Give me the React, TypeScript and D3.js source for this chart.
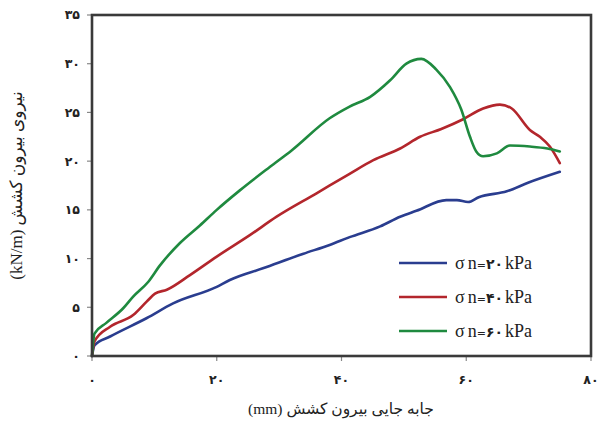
import React from "react";
import * as d3 from "d3";

const xBlue = [0, 0.4, 2.9, 8.8, 13, 20, 22.1, 27.4, 33.9, 38.1, 41.3, 46.2, 49.4, 52, 56.8, 58.5, 60.3, 62, 66.5, 70, 75];
const yBlue = [0, 1.1, 2.0, 3.9, 5.4, 7.1, 7.8, 9.0, 10.5, 11.4, 12.2, 13.3, 14.3, 14.9, 16.0, 16.0, 15.8, 16.3, 16.9, 17.8, 18.9];

const xRed = [0, 0.4, 2.9, 6.6, 8.8, 10.1, 12, 15.7, 20, 25.3, 29.6, 36, 41.3, 45.1, 49.4, 52.6, 56, 59.5, 62.7, 65.4, 67.3, 70.2, 71.8, 73.4, 75];
const yRed = [0, 1.5, 3.0, 4.2, 5.6, 6.4, 6.8, 8.3, 10.2, 12.4, 14.3, 16.7, 18.7, 20.1, 21.3, 22.5, 23.3, 24.3, 25.4, 25.8, 25.4, 23.2, 22.5, 21.5, 19.8];

const xGreen = [0, 0.4, 2.3, 5, 6.6, 9, 10.9, 14.1, 17.3, 20, 23.7, 28.5, 32, 38.1, 41.3, 44.6, 47.8, 50.4, 52.8, 55.2, 57.4, 59.2, 60.6, 61.6, 62.7, 64.9, 67, 70.2, 73, 75];
const yGreen = [0, 2.3, 3.4, 4.9, 6.1, 7.6, 9.3, 11.6, 13.4, 15.0, 17.0, 19.4, 21.1, 24.4, 25.6, 26.6, 28.3, 30.0, 30.5, 29.4, 27.6, 25.3, 22.5, 21.0, 20.5, 20.8, 21.6, 21.5, 21.3, 21.0];

const seriesNames = ["۲۰", "۴۰", "۶۰"];
const seriesColors = ["#2a3d8f", "#b3262c", "#1f8a3f"];

const xTicks = [0, 20, 40, 60, 80];
const xTickLabels = ["۰", "۲۰", "۴۰", "۶۰", "۸۰"];
const yTicks = [0, 5, 10, 15, 20, 25, 30, 35];
const yTickLabels = ["۰", "۵", "۱۰", "۱۵", "۲۰", "۲۵", "۳۰", "۳۵"];

const xTitleAr = "جابه جایی بیرون کشش";
const yTitleAr = "نیروی بیرون کشش";

export default function App() {
  const left = 92, right = 591, top = 15, bottom = 356;
  const x = d3.scaleLinear().domain([0, 80]).range([left, right]);
  const y = d3.scaleLinear().domain([0, 35]).range([bottom, top]);
  const line = d3
    .line<[number, number]>()
    .x((d) => x(d[0]))
    .y((d) => y(d[1]))
    .curve(d3.curveMonotoneX);

  const series = [
    { xs: xBlue, ys: yBlue },
    { xs: xRed, ys: yRed },
    { xs: xGreen, ys: yGreen },
  ];

  const legendY = [263, 297, 331];

  return (
    <svg
      width={599}
      height={425}
      style={{ position: "absolute", left: 0, top: 0, background: "#fff" }}
    >
      <rect x={0} y={0} width={599} height={425} fill="#fff" />
      {yTicks.map((t, i) => (
        <g key={"y" + i}>
          <line x1={left - 5} x2={left} y1={y(t)} y2={y(t)} stroke="#888" strokeWidth={1.2} />
          <text
            x={left - 12}
            y={y(t)}
            dy="0.35em"
            textAnchor="end"
            fontFamily="DejaVu Sans"
            fontWeight="bold"
            fontSize={12.5}
            fill="#222"
          >
            {yTickLabels[i]}
          </text>
        </g>
      ))}
      {xTicks.map((t, i) => (
        <g key={"x" + i}>
          <line x1={x(t)} x2={x(t)} y1={bottom} y2={bottom + 5} stroke="#888" strokeWidth={1.2} />
          <text
            x={x(t)}
            y={384}
            textAnchor="middle"
            fontFamily="DejaVu Sans"
            fontWeight="bold"
            fontSize={12.5}
            fill="#222"
          >
            {xTickLabels[i]}
          </text>
        </g>
      ))}
      {series.map((s, i) => (
        <path
          key={"s" + i}
          d={line(s.xs.map((v, j) => [v, s.ys[j]] as [number, number])) || ""}
          fill="none"
          stroke={seriesColors[i]}
          strokeWidth={2.6}
          strokeLinejoin="round"
          strokeLinecap="round"
        />
      ))}
      <rect
        x={left}
        y={top}
        width={right - left}
        height={bottom - top}
        fill="none"
        stroke="#3a3a3a"
        strokeWidth={2.6}
      />
      {seriesNames.map((n, i) => (
        <g key={"l" + i}>
          <line
            x1={399}
            x2={447}
            y1={legendY[i]}
            y2={legendY[i]}
            stroke={seriesColors[i]}
            strokeWidth={2.6}
          />
          <text x={455} y={legendY[i]} dy="0.35em" fontSize={18} fill="#222" fontFamily="Liberation Serif">
            <tspan>σ</tspan>
            <tspan dx={3}>n</tspan>
            <tspan fontSize={11} fontFamily="DejaVu Sans">=</tspan>
            <tspan fontSize={14} fontFamily="DejaVu Sans" fontWeight="bold">{n}</tspan>
            <tspan dx={2}>kPa</tspan>
          </text>
        </g>
      ))}
      <text
        x={341}
        y={414}
        textAnchor="middle"
        fontSize={15.5}
        fill="#222"
        fontFamily="Liberation Serif, DejaVu Sans"
      >
        {"(mm) " + xTitleAr}
      </text>
      <text
        transform={`translate(22, ${y(17.5)}) rotate(-90)`}
        textAnchor="middle"
        fontSize={17}
        fill="#222"
        fontFamily="Liberation Serif, DejaVu Sans"
      >
        {"(kN/m) " + yTitleAr}
      </text>
    </svg>
  );
}
